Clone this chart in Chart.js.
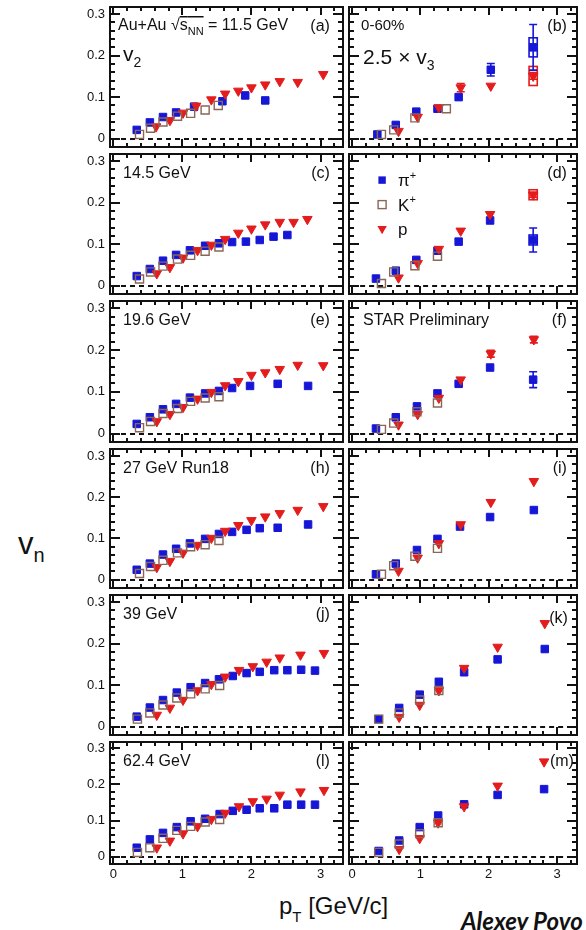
<!DOCTYPE html>
<html><head><meta charset="utf-8">
<script src="https://cdn.jsdelivr.net/npm/chart.js@4.4.1/dist/chart.umd.min.js"></script>
<style>
html,body{margin:0;padding:0;background:#fff;}
body{width:586px;height:930px;position:relative;overflow:hidden;font-family:"Liberation Sans",Arial,sans-serif;color:#111;}
canvas{position:absolute;}
.lbl{position:absolute;white-space:nowrap;line-height:1;}
.lbl .s{position:relative;}
</style></head><body>
<div class="lbl" style="left:18px;top:528px;font-size:31px;">v<span class="s" style="font-size:20px;top:8px;">n</span></div>
<div class="lbl" style="left:279px;top:894px;font-size:24px;">p<span class="s" style="font-size:15px;top:8px;">T</span> [GeV/c]</div>
<div class="lbl" style="left:461px;top:909px;font-size:24px;font-family:Lato,'Open Sans',sans-serif;font-weight:700;font-style:italic;">Alexey Povo</div>
<script>
// ---------------- data: [pT, value, statErr?, sysErr?] ----------------
const yTicks = [0, 0.1, 0.2, 0.3];
const xTicks = [0, 1, 2, 3];
const energyLabels = ['11.5 GeV', '14.5 GeV', '19.6 GeV', '27 GeV Run18', '39 GeV', '62.4 GeV'];

// v2, 11.5 GeV (a)
const v2_pi_115 = [[0.34,0.021],[0.53,0.039],[0.72,0.052],[0.91,0.063],[1.17,0.077],[1.58,0.090],[1.91,0.104],[2.20,0.092]];
const v2_k_115  = [[0.38,0.010],[0.54,0.025],[0.72,0.040],[0.93,0.054],[1.12,0.061],[1.33,0.069],[1.52,0.080]];
const v2_p_115  = [[0.62,0.029],[0.82,0.044],[1.01,0.062],[1.20,0.079],[1.42,0.094],[1.62,0.108],[1.81,0.115],[2.00,0.123],[2.20,0.130],[2.41,0.138],[2.67,0.136],[3.04,0.155]];
// 2.5 x v3, 11.5 GeV (b)
const v3_pi_115 = [[0.37,0.010],[0.64,0.033],[0.94,0.065],[1.25,0.072],[1.56,0.100],[2.03,0.166,0.015],[2.65,0.220,0.055,0.023]];
const v3_k_115  = [[0.43,0.010],[0.61,0.021],[0.92,0.050],[1.38,0.072]];
const v3_p_115  = [[0.68,0.018],[0.96,0.052],[1.27,0.075],[1.59,0.123,0.010],[2.03,0.127],[2.65,0.151,0.008,0.023]];

// v2, 14.5 GeV (c)
const v2_pi_145 = [[0.34,0.023],[0.53,0.040],[0.72,0.060],[0.91,0.074],[1.11,0.085],[1.33,0.096],[1.53,0.102],[1.72,0.105],[1.92,0.106],[2.12,0.110],[2.32,0.118],[2.52,0.122]];
const v2_k_145  = [[0.38,0.016],[0.54,0.033],[0.72,0.047],[0.93,0.064],[1.12,0.073],[1.33,0.083],[1.53,0.093]];
const v2_p_145  = [[0.63,0.029],[0.82,0.044],[1.01,0.067],[1.22,0.085],[1.42,0.098],[1.62,0.112],[1.81,0.127],[2.00,0.137],[2.20,0.147],[2.41,0.153],[2.61,0.153],[2.81,0.160]];
// (d)
const v3_pi_145 = [[0.35,0.017],[0.64,0.036],[0.94,0.062],[1.25,0.084],[1.56,0.106],[2.02,0.157],[2.65,0.110,0.029,0.012]];
const v3_k_145  = [[0.43,0.005],[0.61,0.033],[0.92,0.048],[1.25,0.071]];
const v3_p_145  = [[0.68,0.019],[0.96,0.054],[1.27,0.088],[1.59,0.132],[2.02,0.172],[2.65,0.219,0.006,0.012]];

// v2, 19.6 GeV (e)
const v2_pi_196 = [[0.34,0.023],[0.53,0.039],[0.72,0.058],[0.91,0.071],[1.11,0.086],[1.33,0.096],[1.53,0.102],[1.72,0.109],[1.98,0.114],[2.38,0.119],[2.82,0.114]];
const v2_k_196  = [[0.38,0.014],[0.54,0.029],[0.72,0.048],[0.93,0.060],[1.12,0.077],[1.33,0.085],[1.53,0.088]];
const v2_p_196  = [[0.63,0.029],[0.82,0.046],[1.01,0.063],[1.22,0.083],[1.42,0.099],[1.62,0.115],[1.81,0.125],[2.00,0.140],[2.20,0.146],[2.41,0.154],[2.67,0.164],[3.04,0.163]];
// (f)
const v3_pi_196 = [[0.35,0.012],[0.64,0.039],[0.95,0.065],[1.25,0.096],[1.56,0.119],[2.02,0.158],[2.65,0.129,0.019]];
const v3_k_196  = [[0.43,0.010],[0.61,0.025],[0.95,0.052],[1.25,0.073]];
const v3_p_196  = [[0.68,0.021],[0.96,0.046],[1.27,0.085],[1.59,0.129],[2.03,0.191,0.008],[2.66,0.225,0.008]];

// v2, 27 GeV (h)
const v2_pi_27 = [[0.34,0.024],[0.53,0.039],[0.72,0.061],[0.91,0.075],[1.11,0.088],[1.33,0.099],[1.53,0.111],[1.72,0.116],[1.93,0.121],[2.12,0.125],[2.38,0.126],[2.82,0.134]];
const v2_k_27  = [[0.38,0.015],[0.54,0.032],[0.72,0.047],[0.93,0.065],[1.12,0.080],[1.33,0.085],[1.53,0.095]];
const v2_p_27  = [[0.63,0.030],[0.82,0.045],[1.01,0.065],[1.22,0.084],[1.42,0.101],[1.62,0.118],[1.81,0.132],[2.00,0.144],[2.20,0.153],[2.41,0.161],[2.67,0.169],[3.04,0.178]];
// (i)
const v3_pi_27 = [[0.35,0.013],[0.64,0.039],[0.95,0.072],[1.25,0.099],[1.58,0.129],[2.02,0.152],[2.66,0.169]];
const v3_k_27  = [[0.43,0.013],[0.61,0.034],[0.92,0.057],[1.25,0.076]];
const v3_p_27  = [[0.68,0.021],[0.96,0.053],[1.27,0.088],[1.59,0.134],[2.03,0.188],[2.66,0.239]];

// v2, 39 GeV (j)
const v2_pi_39 = [[0.34,0.024],[0.53,0.046],[0.72,0.064],[0.92,0.082],[1.12,0.095],[1.33,0.105],[1.53,0.114],[1.73,0.122],[1.93,0.129],[2.12,0.132],[2.33,0.136],[2.52,0.136],[2.72,0.137],[2.92,0.135]];
const v2_k_39  = [[0.35,0.018],[0.53,0.033],[0.72,0.052],[0.92,0.069],[1.12,0.079],[1.33,0.091],[1.54,0.099]];
const v2_p_39  = [[0.63,0.028],[0.82,0.045],[1.01,0.064],[1.22,0.087],[1.42,0.102],[1.62,0.120],[1.82,0.136],[2.02,0.145],[2.22,0.156],[2.41,0.166],[2.71,0.173],[3.05,0.177]];
// (k)
const v3_pi_39 = [[0.39,0.018],[0.69,0.045],[0.99,0.077],[1.27,0.108],[1.64,0.131],[2.13,0.162],[2.82,0.187]];
const v3_k_39  = [[0.39,0.018],[0.69,0.033],[0.99,0.064],[1.27,0.087]];
const v3_p_39  = [[0.69,0.023],[0.99,0.052],[1.27,0.087],[1.64,0.141],[2.13,0.192],[2.82,0.249]];

// v2, 62.4 GeV (l)
const v2_pi_624 = [[0.34,0.025],[0.53,0.048],[0.72,0.066],[0.92,0.082],[1.12,0.098],[1.33,0.105],[1.54,0.118],[1.73,0.127],[1.93,0.130],[2.12,0.134],[2.33,0.134],[2.52,0.144],[2.72,0.144],[2.92,0.144]];
const v2_k_624  = [[0.35,0.012],[0.53,0.025],[0.72,0.051],[0.92,0.073],[1.12,0.084],[1.33,0.096],[1.54,0.103]];
const v2_p_624  = [[0.63,0.025],[0.82,0.044],[1.01,0.064],[1.22,0.084],[1.42,0.104],[1.62,0.121],[1.82,0.139],[2.02,0.153],[2.22,0.160],[2.41,0.171],[2.71,0.180],[3.05,0.184]];
// (m)
const v3_pi_624 = [[0.39,0.016],[0.69,0.045],[0.99,0.082],[1.26,0.114],[1.64,0.145],[2.13,0.171],[2.81,0.187]];
const v3_k_624  = [[0.39,0.012],[0.69,0.035],[0.99,0.064],[1.26,0.094]];
const v3_p_624  = [[0.69,0.021],[0.99,0.051],[1.26,0.094],[1.64,0.139],[2.13,0.196],[2.81,0.263]];

// ---------------- layout / style ----------------
const BLUE = '#1616d6', RED = '#e41c1c', BROWN = '#8a6656';
const FONT = '"Liberation Sans", Arial, sans-serif';
const COLS = [[110, 346], [346, 580]];
const ROWS = [[4, 150], [151, 297], [298, 445], [446, 591], [592, 738], [739, 864]];
const XRANGE = [[-0.047, 3.324], [-0.043, 3.29]];
const YRANGE = [-0.02, 0.317];
const PAD = 4, YLAB = 36, XLAB = 24;
const SYS_HALF_W = 0.06;

const panels = [
  {tag:'(a)', row:0, col:0, pi:v2_pi_115, k:v2_k_115, p:v2_p_115, head:'au'},
  {tag:'(b)', row:0, col:1, pi:v3_pi_115, k:v3_k_115, p:v3_p_115, head:'v3'},
  {tag:'(c)', row:1, col:0, pi:v2_pi_145, k:v2_k_145, p:v2_p_145, head:energyLabels[1]},
  {tag:'(d)', row:1, col:1, pi:v3_pi_145, k:v3_k_145, p:v3_p_145, head:'legend'},
  {tag:'(e)', row:2, col:0, pi:v2_pi_196, k:v2_k_196, p:v2_p_196, head:energyLabels[2]},
  {tag:'(f)', row:2, col:1, pi:v3_pi_196, k:v3_k_196, p:v3_p_196, head:'STAR Preliminary'},
  {tag:'(h)', row:3, col:0, pi:v2_pi_27, k:v2_k_27, p:v2_p_27, head:energyLabels[3]},
  {tag:'(i)', row:3, col:1, pi:v3_pi_27, k:v3_k_27, p:v3_p_27, head:null},
  {tag:'(j)', row:4, col:0, pi:v2_pi_39, k:v2_k_39, p:v2_p_39, head:energyLabels[4]},
  {tag:'(k)', row:4, col:1, pi:v3_pi_39, k:v3_k_39, p:v3_p_39, head:null, tagDx:-9, tagDy:28},
  {tag:'(l)', row:5, col:0, pi:v2_pi_624, k:v2_k_624, p:v2_p_624, head:energyLabels[5]},
  {tag:'(m)', row:5, col:1, pi:v3_pi_624, k:v3_k_624, p:v3_p_624, head:null, tagDx:-3, tagDy:24},
];

function toPts(arr){ return arr.map(d => ({x:d[0], y:d[1], e:d[2]||0, s:d[3]||0})); }

function rich(ctx, segs, x, y, size, align){
  const fnt = k => `${(k.indexOf('sub')>=0||k.indexOf('sup')>=0) ? Math.round(size*0.66) : size}px ${FONT}`;
  let w = 0;
  segs.forEach(([t,k]) => { ctx.font = fnt(k); w += ctx.measureText(t).width; });
  let cx = align === 'right' ? x - w : x;
  segs.forEach(([t,k]) => {
    ctx.font = fnt(k);
    const tw = ctx.measureText(t).width;
    let yy = y;
    if (k.indexOf('sub')>=0) yy = y + size*0.28;
    if (k.indexOf('sup')>=0) yy = y - size*0.42;
    ctx.fillText(t, cx, yy);
    if (k.indexOf('ovl')>=0){
      ctx.fillRect(cx, Math.round(y - size*0.86), tw, 1.5);
    }
    cx += tw;
  });
}

function markerPath(ctx, kind, x, y){
  ctx.beginPath();
  if (kind === 'pi'){ ctx.fillStyle = BLUE; ctx.fillRect(x-3.7, y-3.7, 7.4, 7.4); }
  else if (kind === 'k'){ ctx.strokeStyle = BROWN; ctx.lineWidth = 1.4; ctx.strokeRect(x-4, y-4, 8, 8); }
  else { ctx.moveTo(x-4.7, y-3); ctx.lineTo(x+4.7, y-3); ctx.lineTo(x, y+5.2); ctx.closePath(); ctx.fillStyle = RED; ctx.fill(); }
}

function drawFrame(chart){
  const ctx = chart.ctx, a = chart.chartArea, x = chart.scales.x, y = chart.scales.y;
  const L = Math.round(a.left), R = Math.round(a.right), T = Math.round(a.top), B = Math.round(a.bottom);
  ctx.save();
  ctx.fillStyle = '#111';
  for (let i = 0; i <= 16; i++){
    const v = i*0.2; if (v < x.min || v > x.max) continue;
    const px = Math.round(x.getPixelForValue(v));
    const len = (i % 5 === 0) ? 8 : 4;
    ctx.fillRect(px - 1, B - len, 2, len);
    ctx.fillRect(px - 1, T, 2, len);
  }
  for (let i = -1; i <= 15; i++){
    const v = i*0.02; if (v < y.min - 1e-9 || v > y.max) continue;
    const py = Math.round(y.getPixelForValue(v));
    const len = (i % 5 === 0) ? 10 : 5;
    ctx.fillRect(L, py - 1, len, 2);
    ctx.fillRect(R - len, py - 1, len, 2);
  }
  ctx.fillRect(L - 1, T - 1, R - L + 2, 2);
  ctx.fillRect(L - 1, B - 1, R - L + 2, 2);
  ctx.fillRect(L - 1, T - 1, 2, B - T + 2);
  ctx.fillRect(R - 1, T - 1, 2, B - T + 2);
  ctx.restore();
}

function makePlugin(pn){
  return {
    id: 'panel' + pn.tag.replace(/[()]/g, ''),
    beforeDatasetsDraw(chart){
      const {ctx, chartArea:a, scales:{x, y}} = chart;
      ctx.save();
      const y0 = Math.round(y.getPixelForValue(0));
      ctx.fillStyle = '#111';
      for (let px = a.left + 2; px < a.right - 2; px += 9) ctx.fillRect(px, y0 - 1, Math.min(5, a.right - 2 - px), 2);
      chart.data.datasets.forEach(ds => {
        ds.data.forEach(d => {
          const px = x.getPixelForValue(d.x);
          if (d.e){
            const t = y.getPixelForValue(d.y + d.e), b = y.getPixelForValue(d.y - d.e);
            ctx.strokeStyle = ds.borderColor; ctx.lineWidth = 1.6;
            ctx.beginPath(); ctx.moveTo(px, t); ctx.lineTo(px, b);
            ctx.moveTo(px-4, t); ctx.lineTo(px+4, t); ctx.moveTo(px-4, b); ctx.lineTo(px+4, b); ctx.stroke();
          }
          if (d.s){
            const l = x.getPixelForValue(d.x - SYS_HALF_W), r = x.getPixelForValue(d.x + SYS_HALF_W);
            const t = y.getPixelForValue(d.y + d.s), b = y.getPixelForValue(d.y - d.s);
            ctx.strokeStyle = ds.borderColor; ctx.lineWidth = 1.6;
            ctx.strokeRect(l, t, r-l, b-t);
          }
        });
      });
      ctx.restore();
    },
    afterDraw(chart){
      const ctx = chart.ctx, a = chart.chartArea;
      drawFrame(chart);
      ctx.save();
      ctx.fillStyle = '#111'; ctx.strokeStyle = '#111';
      ctx.textBaseline = 'alphabetic'; ctx.textAlign = 'left';
      rich(ctx, [[pn.tag,'']], a.right + (pn.tagDx !== undefined ? pn.tagDx : (pn.col ? -10 : -13)), a.top + (pn.tagDy || 24), 16, 'right');
      if (pn.head === 'au'){
        rich(ctx, [['Au+Au ',''],['\u221A',''],['s','ovl'],['NN','subovl'],[' = 11.5 GeV','']], a.left + 8, a.top + 23, 16, 'left');
        rich(ctx, [['v',''],['2','sub']], a.left + 13, a.top + 54, 21, 'left');
      } else if (pn.head === 'v3'){
        rich(ctx, [['0-60%','']], a.left + 12, a.top + 23, 15, 'left');
        rich(ctx, [['2.5 \u00D7 v',''],['3','sub']], a.left + 14, a.top + 57, 21, 'left');
      } else if (pn.head === 'legend'){
        const items = [['pi', [['\u03C0',''],['+','sup']]], ['k', [['K',''],['+','sup']]], ['p', [['p','']]]];
        items.forEach(([kind, segs], i) => {
          const cy = a.top + 26 + i*24.5;
          markerPath(ctx, kind, a.left + 33, cy);
          ctx.fillStyle = '#111';
          rich(ctx, segs, a.left + 49, cy + 6, 17, 'left');
        });
      } else if (pn.head){
        rich(ctx, [[pn.head,'']], a.left + (pn.col ? 14 : 13), a.top + 24, 16, 'left');
      }
      ctx.restore();
    }
  };
}

panels.forEach(pn => {
  const [x0, x1] = COLS[pn.col], [y0, y1] = ROWS[pn.row];
  const isLeft = pn.col === 0, isBottom = pn.row === 5;
  const cv = document.createElement('canvas');
  const left = x0 - PAD - (isLeft ? YLAB : 0);
  const top = y0 - PAD;
  const w = (x1 - x0) + 2*PAD + (isLeft ? YLAB : 0);
  const h = (y1 - y0) + 2*PAD + (isBottom ? XLAB : 0);
  cv.width = w; cv.height = h;
  cv.style.left = left + 'px'; cv.style.top = top + 'px';
  cv.style.width = w + 'px'; cv.style.height = h + 'px';
  document.body.appendChild(cv);

  new Chart(cv, {
    type: 'scatter',
    data: { datasets: [
      {label:'K+', data:toPts(pn.k), pointStyle:'rect', pointRadius:5.7, backgroundColor:'rgba(0,0,0,0)', borderColor:BROWN, borderWidth:1.4},
      {label:'p', data:toPts(pn.p), pointStyle:'triangle', rotation:180, pointRadius:5.5, backgroundColor:RED, borderColor:RED, borderWidth:1},
      {label:'\u03C0+', data:toPts(pn.pi), pointStyle:'rect', pointRadius:5.3, backgroundColor:BLUE, borderColor:BLUE, borderWidth:1},
    ]},
    options: {
      responsive:false, animation:false, devicePixelRatio:1,
      layout:{padding:{left:PAD, right:PAD, top:PAD, bottom:PAD}},
      plugins:{legend:{display:false}, tooltip:{enabled:false}},
      events: [],
      scales:{
        x:{type:'linear', min:XRANGE[pn.col][0], max:XRANGE[pn.col][1], display:isBottom,
           grid:{display:false, drawTicks:false}, border:{display:false},
           afterBuildTicks: s => { s.ticks = xTicks.map(v => ({value:v})); },
           afterFit: s => { s.height = isBottom ? XLAB : 0; s.paddingLeft = 0; s.paddingRight = 0; },
           ticks:{font:{family:FONT, size:13}, color:'#111', padding:3, maxRotation:0, autoSkip:false, callback:v => String(v)}},
        y:{type:'linear', min:YRANGE[0], max:YRANGE[1], display:isLeft,
           grid:{display:false, drawTicks:false}, border:{display:false},
           afterBuildTicks: s => { s.ticks = yTicks.map(v => ({value:v})); },
           afterFit: s => { s.width = isLeft ? YLAB : 0; s.paddingTop = 0; s.paddingBottom = 0; },
           ticks:{font:{family:FONT, size:13}, color:'#111', padding:5, autoSkip:false, callback:v => v === 0 ? '0' : v.toFixed(1)}}
      }
    },
    plugins:[makePlugin(pn)]
  });
});
</script>
</body></html>
